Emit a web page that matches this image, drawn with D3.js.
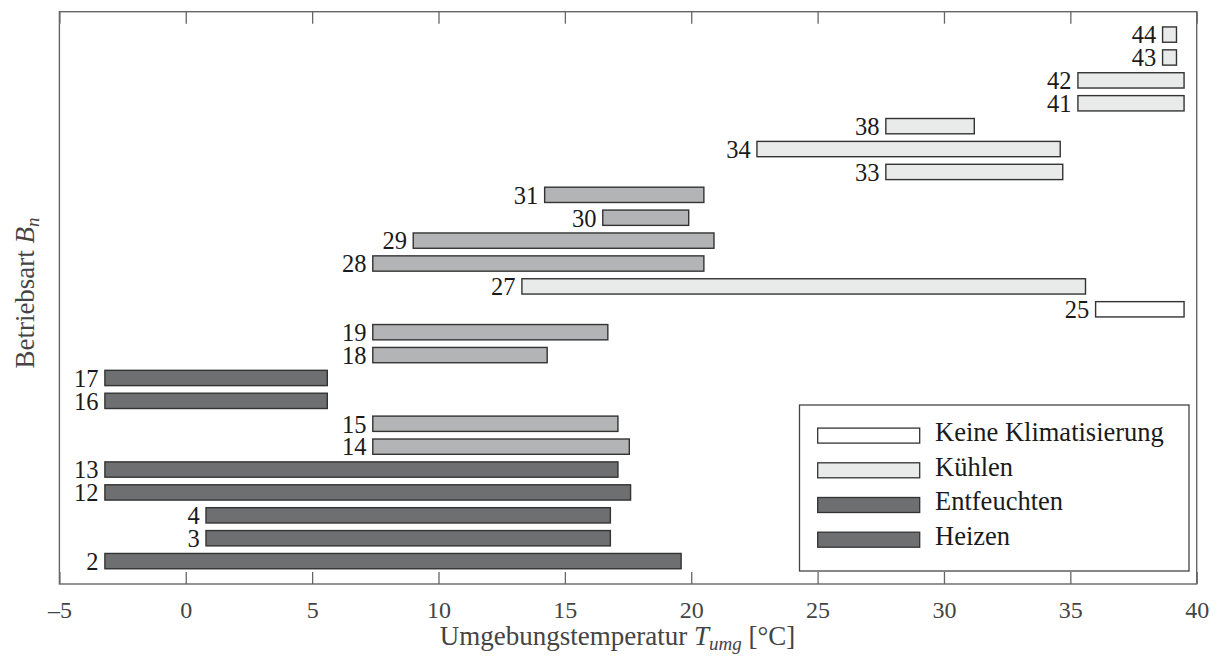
<!DOCTYPE html>
<html>
<head>
<meta charset="utf-8">
<script src="https://cdn.jsdelivr.net/npm/d3@7"></script>
<style>
  html, body { margin: 0; padding: 0; background: #fff; }
  svg { display: block; font-family: "Liberation Serif", "Times New Roman", serif; }
  svg text { font-family: "Liberation Serif", "Times New Roman", serif; }
</style>
</head>
<body>
<svg id="chart" width="1217" height="671"></svg>
<script>
// ---- data ----
const ids    = [2, 3, 4, 12, 13, 14, 15, 16, 17, 18, 19, 25, 27, 28, 29, 30, 31, 33, 34, 38, 41, 42, 43, 44];
const starts = [-3.2, 0.8, 0.8, -3.2, -3.2, 7.4, 7.4, -3.2, -3.2, 7.4, 7.4, 36.0, 13.3, 7.4, 9.0, 16.5, 14.2, 27.7, 22.6, 27.7, 35.3, 35.3, 38.65, 38.65];
const ends   = [19.6, 16.8, 16.8, 17.6, 17.1, 17.55, 17.1, 5.6, 5.6, 14.3, 16.7, 39.5, 35.6, 20.5, 20.9, 19.9, 20.5, 34.7, 34.6, 31.2, 39.5, 39.5, 39.2, 39.2];
const modes  = ["Heizen", "Heizen", "Heizen", "Heizen", "Heizen", "Entfeuchten", "Entfeuchten", "Heizen", "Heizen",
                "Entfeuchten", "Entfeuchten", "Keine Klimatisierung", "Kühlen", "Entfeuchten", "Entfeuchten", "Entfeuchten",
                "Entfeuchten", "Kühlen", "Kühlen", "Kühlen", "Kühlen", "Kühlen", "Kühlen", "Kühlen"];
const modeNames  = ["Keine Klimatisierung", "Kühlen", "Entfeuchten", "Heizen"];
const modeFills  = ["#ffffff", "#e9eaea", "#b3b4b5", "#6e6f71"];
const legendFills = ["#ffffff", "#e9eaea", "#6e6f71", "#6e6f71"];
const xTicks = [-5, 0, 5, 10, 15, 20, 25, 30, 35, 40];

// ---- layout ----
const L = 59.4, R = 1196.7, T = 11.7, B = 584;
const svg = d3.select("#chart");
const x = d3.scaleLinear().domain([-5, 40]).range([L, R]);
const y = d3.scaleLinear().domain([0, ids.length + 1]).range([B, T]);
const fill = d3.scaleOrdinal().domain(modeNames).range(modeFills);
const barH = 15.3;
const axisColor = "#666";
const FONT = "Liberation Serif, Times New Roman, serif";

// bars
const rows = ids.map((id, i) => ({ id, s: starts[i], e: ends[i], m: modes[i], r: i + 1 }));
svg.append("g").selectAll("rect").data(rows).join("rect")
  .attr("x", d => x(d.s))
  .attr("y", d => y(d.r) - barH / 2)
  .attr("width", d => x(d.e) - x(d.s))
  .attr("height", barH)
  .attr("fill", d => fill(d.m))
  .attr("stroke", "#333")
  .attr("stroke-width", 1.4);

svg.append("g").selectAll("text").data(rows).join("text")
  .attr("x", d => x(d.s) - 6.3)
  .attr("y", d => y(d.r) + 8.8)
  .attr("text-anchor", "end")
  .attr("font-family", FONT)
  .attr("font-size", 24.5)
  .attr("fill", "#1a1a1a")
  .text(d => d.id);

// axes
const fmt = d => d < 0 ? "\u2013" + Math.abs(d) : String(d);
const gb = svg.append("g").attr("transform", `translate(0,${B})`)
  .call(d3.axisBottom(x).tickValues(xTicks).tickFormat(fmt).tickSizeInner(-12).tickSizeOuter(0).tickPadding(17));
const gt = svg.append("g").attr("transform", `translate(0,${T})`)
  .call(d3.axisTop(x).tickValues(xTicks).tickFormat("").tickSizeInner(-12).tickSizeOuter(0));
[gb, gt].forEach(g => {
  g.attr("font-family", FONT);
  g.select(".domain").remove();
  g.selectAll("line").attr("stroke", axisColor).attr("stroke-width", 1.3);
  g.selectAll("text").attr("font-size", 24).attr("fill", "#444").attr("font-family", FONT);
});
svg.append("rect")
  .attr("x", L).attr("y", T).attr("width", R - L).attr("height", B - T)
  .attr("fill", "none").attr("stroke", axisColor).attr("stroke-width", 1.4);

// legend
const lg = svg.append("g");
lg.append("rect").attr("x", 799.5).attr("y", 405).attr("width", 389.5).attr("height", 166)
  .attr("fill", "#fff").attr("stroke", "#444").attr("stroke-width", 1.3);
modeNames.forEach((n, i) => {
  const cy = 435.6 + i * 34.7;
  lg.append("rect").attr("x", 817.7).attr("y", cy - 7.5).attr("width", 102).attr("height", 15)
    .attr("fill", legendFills[i]).attr("stroke", "#333").attr("stroke-width", 1.3);
  lg.append("text").attr("x", 935).attr("y", cy + 5.2).attr("font-family", FONT)
    .attr("font-size", 26.5).attr("fill", "#1a1a1a").text(n);
});

// axis titles
const xt = svg.append("text").attr("x", 617.5).attr("y", 645).attr("text-anchor", "middle")
  .attr("font-family", FONT).attr("font-size", 27).attr("fill", "#444");
xt.append("tspan").text("Umgebungstemperatur ");
xt.append("tspan").attr("font-style", "italic").text("T");
xt.append("tspan").attr("font-style", "italic").attr("font-size", 19).attr("dy", 5).text("umg");
xt.append("tspan").attr("dy", -5).text(" [°C]");

const yt = svg.append("text").attr("transform", `translate(33.5,293) rotate(-90)`).attr("text-anchor", "middle")
  .attr("font-family", FONT).attr("font-size", 27).attr("fill", "#444");
yt.append("tspan").text("Betriebsart ");
yt.append("tspan").attr("font-style", "italic").text("B");
yt.append("tspan").attr("font-style", "italic").attr("font-size", 19).attr("dy", 5).text("n");
</script>
</body>
</html>
